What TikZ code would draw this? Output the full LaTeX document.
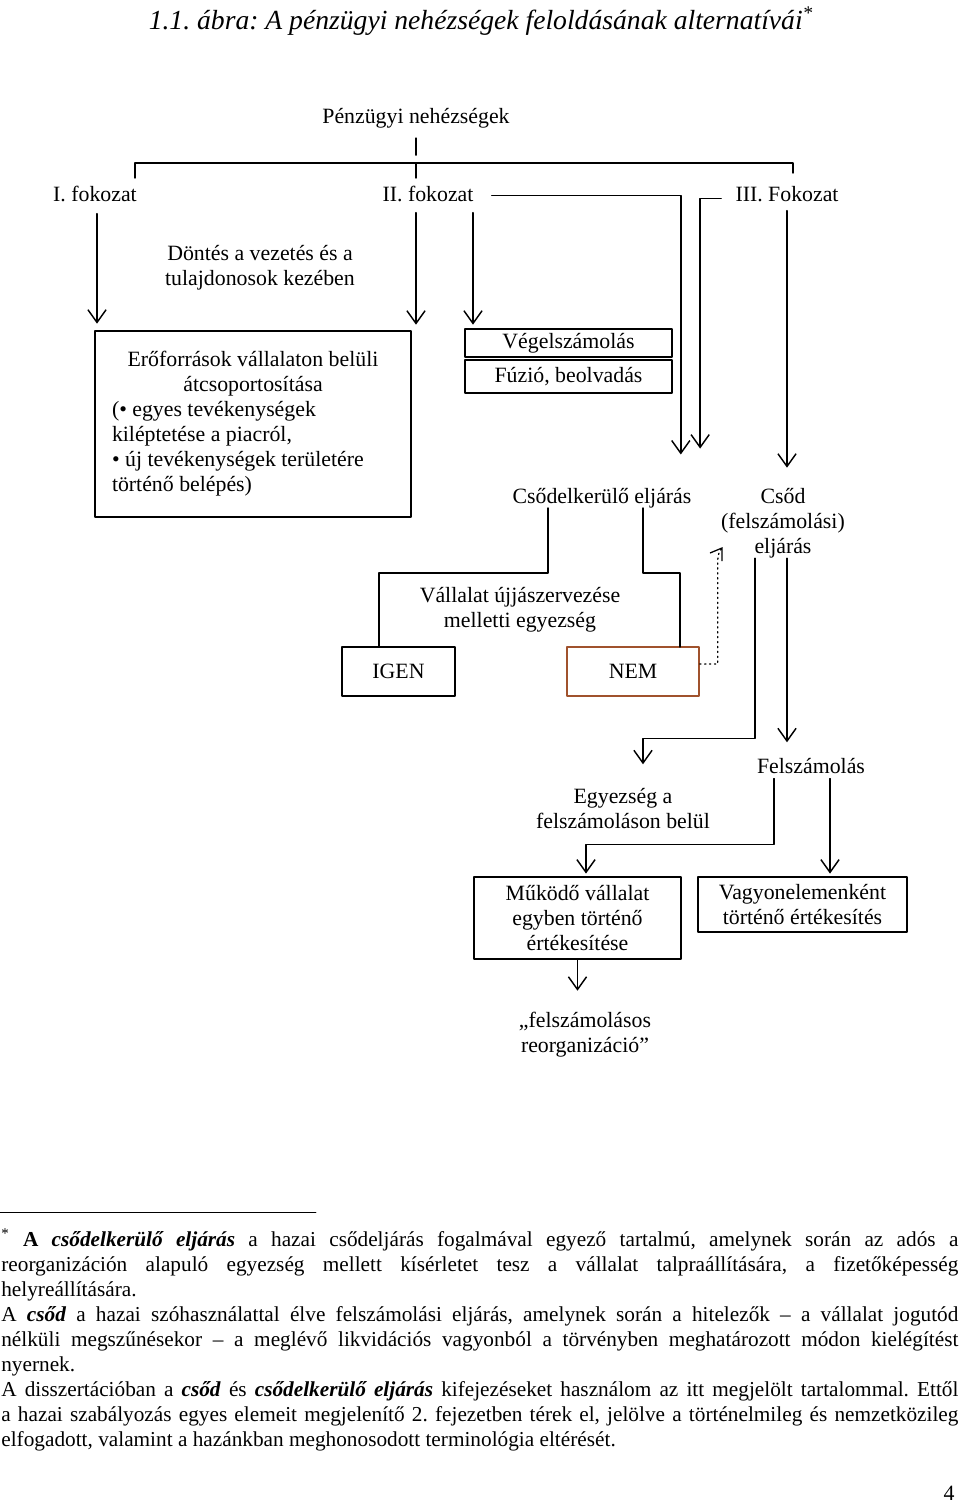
\documentclass[tikz,border=0pt]{standalone}
\usepackage{fontspec}
\setmainfont{Liberation Serif}
\usetikzlibrary{arrows.meta}
\frenchspacing
\newcommand{\pxu}{0.55pt}
\newcommand{\txt}{\fontsize{12}{13.75}\selectfont}
\tikzset{
	lbl/.style={inner sep=0pt, anchor=base, font=\txt},
	mlbl/.style={inner sep=0pt, align=center, font=\txt},
	box/.style 2 args={draw, line width=0.8pt, inner sep=0pt, align=center, font=\txt,
		minimum width={#1*\pxu}, minimum height={#2*\pxu}},
	con/.style={line width=0.8pt},
	arr/.style={con, -{Straight Barb[length=7pt,width=10pt,line width=0.8pt]}},
	dotarr/.style={line width=0.7pt, dotted, -{Straight Barb[length=6pt,width=8pt,line width=0.7pt]}},
}
\definecolor{nembrown}{RGB}{160,82,45}
\begin{document}
\begin{tikzpicture}[x=0.55pt, y=-0.55pt, line join=round, line cap=round]
	\useasboundingbox (0,0) rectangle (960,1503);
	% title
	\node[anchor=base, inner sep=0pt, font=\fontsize{15.2}{17}\selectfont\itshape] (title) at (481,29)
		{1.1. ábra: A pénzügyi nehézségek feloldásának alternatívái\textsuperscript{*}};
	% levels
	\node[lbl] (penz) at (416,123) {Pénzügyi nehézségek};
	\node[lbl] (fok1) at (95,201) {I. fokozat};
	\node[lbl] (fok2) at (428,201) {II. fokozat};
	\node[lbl] (fok3) at (787,201) {III. Fokozat};
	\coordinate (barL) at (135,163);
	\coordinate (bar) at (416,163);
	\coordinate (barR) at (793,163);
	\draw[con] (penz.south) ++(0,10) -- ++(0,17);
	\draw[con] (barL) ++(0,15) -- (barL) -- (barR) -- ++(0,10);
	\draw[con] (bar) -- ++(0,15);

	\node[mlbl] (dontes) at (260,268) {Döntés a vezetés és a\\tulajdonosok kezében};
	\node[box={316}{186}, text width={282*\pxu}, align=none] (erof) at (253,424)
		{{\centering Erőforrások vállalaton belüli\\átcsoportosítása\par}\raggedright
		(\textbullet\ egyes tevékenységek\\kiléptetése a piacról,\\\textbullet\ új tevékenységek területére\\történő belépés)};
	\node[box={207}{28}] (vegel) at (568.5,343) {Végelszámolás};
	\node[box={207}{33}] (fuzio) at (568.5,376.5) {Fúzió, beolvadás};
	\node[lbl] (csodelk) at (602,503) {Csődelkerülő eljárás};
	\node[mlbl] (csod) at (783,523) {Csőd\\(felszámolási)\\eljárás};
	\node[mlbl] (vallalat) at (520,610) {Vállalat újjászervezése\\melletti egyezség};
	\node[box={113}{49}] (igen) at (398.5,671.5) {IGEN};
	\node[box={132}{49}, draw=nembrown] (nem) at (633,671.5) {NEM};
	\node[lbl] (felsz) at (811,773) {Felszámolás};
	\node[mlbl] (egyezs) at (623,809) {Egyezség a\\felszámoláson belül};
	\node[box={207}{82}] (mukodo) at (577.5,918) {Működő vállalat\\egyben történő\\értékesítése};
	\node[box={209}{55}] (vagyon) at (802.5,904.5) {Vagyonelemenként\\történő értékesítés};
	\node[mlbl] (reorg) at (585,1035) {„felszámolásos\\reorganizáció”};

	% arrows
	\draw[arr] (fok1.south) ++(2,12) -- ++(0,110);
	\draw[arr] (fok2.south) ++(-12,11) -- ++(0,112);
	\draw[arr] (fok2.south) ++(45,11) -- ++(0,112);
	\draw[arr] (fok2.east) ++(18,2) -| ++(189,259);
	\draw[arr] (fok3.west) ++(-14,5) -| ++(-21,250);
	\draw[arr] (fok3.south) ++(0,9) -- ++(0,257);
	\draw[con] (csodelk.south) ++(-54,0) |- ++(-169,65) -- ++(0,74);
	\draw[con] (csodelk.south) ++(41,0) |- ++(37,65) -- ++(0,74);
	\draw[dotarr] (nem.east) ++(0,-7.5) -- ++(18,0) -- ++(0,-104) .. controls +(0,-7) and +(-2,3) .. ++(5,-13);
	\draw[arr] (csod.south) ++(-28,0) |- ++(-112,180) -- ++(0,26);
	\draw[arr] (csod.south) ++(4,0) -- ++(0,184);
	\draw[arr] (felsz.south) ++(-37,5) |- ++(-188,66) -- ++(0,29);
	\draw[arr] (felsz.south) ++(19,5) -- ++(0,95);
	\draw[arr] (mukodo.south) -- ++(0,31);

	% footnote
	\draw[line width=0.5pt] (0,1212) -- (316,1212);
	\node[anchor=north west, inner sep=0pt, text width={957*\pxu}, align=justify,
		font=\fontsize{11.7}{13.75}\selectfont] (note) at (1,1228)
		{\hyphenpenalty=10000 \exhyphenpenalty=10000 \tolerance=9999 \emergencystretch=3em \parindent=0pt
		\textsuperscript{*} \textbf{A \textit{csődelkerülő eljárás}} a hazai csődeljárás fogalmával egyező tartalmú, amelynek során az adós a\linebreak
		reorganizáción alapuló egyezség mellett kísérletet tesz a vállalat talpraállítására, a fizetőképesség\linebreak
		helyreállítására.\par
		A \textbf{\textit{csőd}} a hazai szóhasználattal élve felszámolási eljárás, amelynek során a hitelezők -- a vállalat jogutód\linebreak
		nélküli megszűnésekor -- a meglévő likvidációs vagyonból a törvényben meghatározott módon kielégítést\linebreak
		nyernek.\par
		A disszertációban a \textbf{\textit{csőd}} és \textbf{\textit{csődelkerülő eljárás}} kifejezéseket használom az itt megjelölt tartalommal. Ettől\linebreak
		a hazai szabályozás egyes elemeit megjelenítő 2. fejezetben térek el, jelölve a történelmileg és nemzetközileg\linebreak
		elfogadott, valamint a hazánkban meghonosodott terminológia eltérését.};
	\node[anchor=base east, inner sep=0pt, font=\txt] (pagenum) at (955,1500) {4};
\end{tikzpicture}
\end{document}
